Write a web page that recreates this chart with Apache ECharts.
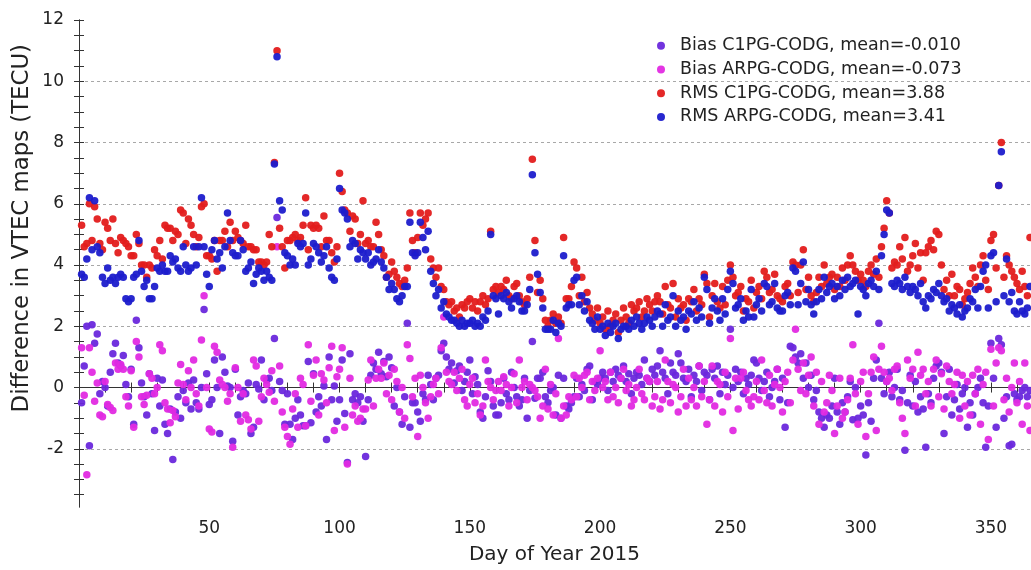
<!DOCTYPE html>
<html>
<head>
<meta charset="utf-8">
<script src="https://cdn.jsdelivr.net/npm/echarts@6/dist/echarts.min.js"></script>
<style>html,body{margin:0;padding:0;background:#fff}#c{width:1031px;height:570px}</style>
</head>
<body>
<div id="c"></div>
<script>
const seriesNames = ['Bias C1PG-CODG, mean=-0.010','Bias ARPG-CODG, mean=-0.073','RMS C1PG-CODG, mean=3.88','RMS ARPG-CODG, mean=3.41'];
const xTickValues = [10,20,30,40,50,60,70,80,90,100,110,120,130,140,150,160,170,180,190,200,210,220,230,240,250,260,270,280,290,300,310,320,330,340,350,360];
const xLabelValues = [50,100,150,200,250,300,350];
const yLabelValues = [-2,0,2,4,6,8,10,12];
const yGridValues = [-2,0,2,4,6,8,10];
const yTickValues = [-3.5,-3,-2.5,-2,-1.5,-1,-0.5,0,0.5,1,1.5,2,2.5,3,3.5,4,4.5,5,5.5,6,6.5,7,7.5,8,8.5,9,9.5,10,10.5,11,11.5,12];

const rmsC1 = [
5.3,4.6,4.7,6.0,4.8,5.9,5.5,4.7,4.5,5.4,
5.2,4.8,5.5,4.7,4.4,4.9,4.8,4.7,4.6,4.3,
4.3,5.0,4.7,4.0,4.0,3.6,4.0,3.9,4.5,4.3,
4.8,4.2,5.3,5.2,5.2,4.8,5.1,5.0,5.8,5.7,
4.7,5.5,5.3,5.0,4.6,4.9,5.9,6.0,4.3,4.3,
4.2,4.8,3.8,4.8,4.8,5.1,4.6,5.4,4.8,5.1,
4.9,4.8,4.7,5.3,4.6,4.6,4.5,4.5,4.1,4.1,
4.0,4.1,5.0,4.6,7.35,11.0,5.2,4.6,3.9,4.8,
4.8,4.9,5.0,4.8,4.9,5.3,6.2,4.5,5.3,5.2,
5.3,5.2,4.6,5.6,4.8,4.8,4.4,4.1,4.6,7.0,
6.4,5.8,5.7,5.1,5.6,5.5,4.7,5.0,6.1,4.7,
4.8,4.6,4.6,5.4,5.0,4.5,4.3,3.6,3.7,4.1,
3.8,3.6,3.4,3.3,3.5,3.9,5.7,4.8,4.4,4.9,
5.7,5.3,5.5,5.7,4.2,3.9,3.6,3.9,3.3,3.2,
2.8,2.7,2.8,2.5,2.6,2.3,2.7,2.6,2.8,2.9,
2.6,2.8,2.5,2.8,3.0,2.7,2.9,5.1,3.2,3.3,
3.1,3.3,3.2,3.5,3.0,2.9,3.3,3.4,3.0,2.8,
2.7,2.9,3.6,7.45,4.8,3.1,3.5,2.9,2.2,2.0,
2.2,2.4,2.1,2.3,2.1,4.9,2.9,2.9,3.3,4.1,
3.9,3.0,3.6,2.8,3.1,2.6,2.4,2.2,2.6,2.1,
2.3,1.9,2.5,2.0,2.2,2.4,1.8,2.2,2.6,2.3,
2.1,2.7,2.5,2.6,2.8,2.3,2.5,2.9,2.7,2.5,
2.8,3.0,2.8,2.4,3.3,2.7,2.6,3.4,2.3,2.9,
2.6,2.7,2.2,2.9,2.8,3.2,2.5,2.9,2.7,3.7,
3.4,2.3,3.0,3.4,2.8,2.6,3.3,2.7,3.5,4.0,
3.6,3.0,3.1,3.3,2.5,2.9,2.8,3.5,2.6,3.1,
3.3,2.9,3.8,3.6,3.1,3.2,3.7,3.0,2.9,2.8,
3.3,3.4,3.0,4.1,4.0,3.1,4.0,4.5,3.2,3.6,
3.0,2.8,3.1,3.6,3.3,4.0,3.4,3.6,3.7,3.2,
3.6,3.3,3.9,3.5,4.0,4.3,4.0,3.8,3.5,3.7,
3.5,3.3,3.8,4.0,3.7,4.2,3.6,4.6,5.2,6.1,
5.7,3.9,4.1,4.0,4.6,4.2,4.9,3.8,4.0,4.3,
4.7,3.9,4.4,3.5,4.4,4.6,4.8,4.5,5.1,5.0,
4.0,3.2,3.5,3.0,3.7,3.0,3.3,3.2,2.7,2.9,
3.1,3.4,3.9,3.6,3.3,4.0,4.3,3.5,3.2,4.8,
5.0,3.9,6.6,8.0,3.6,4.3,4.0,3.8,3.6,3.4,
3.2,3.8,3.3,3.0,4.9];

const rmsAR = [
3.7,3.6,4.2,6.2,4.5,6.1,4.6,4.4,3.6,3.4,
3.9,3.5,3.6,3.4,3.6,3.7,3.6,2.9,2.8,2.9,
3.6,3.7,4.8,3.8,3.3,3.5,2.9,2.9,3.3,3.9,
3.8,4.0,3.8,3.8,4.3,4.1,4.2,3.9,3.8,4.6,
4.0,3.8,3.9,4.6,4.0,4.6,6.2,4.6,3.7,3.3,
4.5,4.8,4.2,4.4,3.9,4.6,5.7,4.8,4.4,4.3,
4.3,4.8,4.5,3.8,3.9,4.1,3.4,3.7,3.9,3.8,
3.5,3.8,3.6,3.5,7.3,10.8,6.1,5.8,4.4,4.3,
4.0,4.2,4.0,4.7,4.6,4.7,5.7,4.0,4.2,4.7,
4.6,4.4,4.1,4.3,4.6,3.9,3.6,3.5,4.2,6.5,
5.8,5.7,5.5,4.6,4.8,4.7,4.2,4.5,4.4,4.2,
4.4,4.0,4.1,4.2,4.5,4.1,3.9,3.6,3.2,3.4,
3.2,2.9,2.8,3.0,3.3,3.3,5.4,4.4,4.3,4.4,
5.4,4.9,4.5,5.1,3.8,3.4,3.0,3.2,2.6,2.8,
2.4,2.3,2.2,2.2,2.1,2.0,2.2,2.0,2.1,2.1,
2.2,2.0,2.1,2.0,2.3,2.2,2.5,5.0,3.0,2.9,
2.4,3.0,2.9,3.1,2.8,2.6,2.9,3.0,2.8,2.5,
2.5,2.7,3.2,6.95,4.4,3.7,3.1,2.6,1.9,1.9,
1.9,2.2,1.8,2.1,2.0,4.3,2.6,2.7,2.7,3.5,
3.6,2.7,3.0,2.5,2.8,2.2,2.1,1.9,2.3,1.9,
2.0,1.7,2.1,1.8,2.0,2.1,1.6,1.9,2.0,2.0,
1.9,2.2,2.0,2.3,2.1,1.9,2.1,2.3,2.2,2.0,
2.3,2.5,2.4,2.0,2.7,2.2,2.3,3.0,2.0,2.5,
2.2,2.3,1.9,2.5,2.4,2.8,2.2,2.6,2.3,3.6,
3.2,2.1,2.6,2.9,2.5,2.2,2.9,2.4,3.2,3.8,
3.4,2.6,2.7,2.9,2.2,2.5,2.3,3.2,2.3,2.7,
2.9,2.5,3.4,3.3,2.7,2.8,3.4,2.6,2.5,2.5,
3.0,3.1,2.7,3.9,3.8,2.7,3.4,4.1,2.8,3.2,
2.7,2.4,2.8,3.2,2.9,3.6,3.1,3.3,3.4,2.9,
3.3,3.0,3.5,3.2,3.6,3.3,3.4,3.5,2.4,3.3,
3.2,3.0,3.4,3.5,3.3,3.8,3.2,4.3,5.0,5.8,
5.7,3.4,3.3,3.5,3.4,3.2,3.6,3.3,3.1,3.3,
3.2,3.0,3.4,2.8,2.6,3.0,2.9,3.2,3.1,3.4,
3.0,2.8,2.9,2.5,2.7,2.6,2.4,2.7,2.3,2.5,
2.6,2.9,2.8,3.2,2.6,3.3,3.8,4.0,2.6,4.3,
4.4,2.8,6.6,7.7,3.0,4.2,2.8,3.1,2.5,2.4,
2.8,2.5,2.4,2.6,3.3];

const biasC1 = [
-0.5,0.7,2.0,-1.9,2.05,1.45,1.75,-0.2,0.2,0.0,
-0.6,0.5,1.1,1.45,0.8,0.7,1.05,0.1,-0.3,0.6,
-1.2,2.2,1.3,0.15,-0.3,-0.9,0.45,-0.2,-1.4,0.3,
-0.6,0.25,-1.2,-1.5,-0.7,-2.35,-0.8,-0.3,-1.0,-0.1,
-0.5,0.15,-0.7,0.25,-0.5,-0.7,0.0,2.55,0.45,-0.55,
-0.4,0.9,0.0,-1.5,1.0,0.5,0.05,0.0,-1.75,0.6,
-0.9,-0.3,-0.1,-0.2,0.15,-1.5,-1.3,0.1,-0.05,0.9,
-0.4,0.25,0.3,-0.1,1.6,5.55,0.2,-0.1,-1.2,-0.2,
-1.2,-1.7,-1.0,-0.4,-0.9,-1.25,-1.25,0.85,-1.15,0.45,
-0.8,-0.3,-0.6,0.05,-1.7,1.0,-0.4,0.05,-1.1,-0.4,
0.9,-0.85,-2.45,1.1,-0.4,-0.2,-0.5,-0.3,-1.1,-2.25,
-0.4,0.4,0.8,0.6,1.15,0.45,0.85,0.35,1.0,0.65,
-0.6,0.0,-0.8,-1.2,-0.3,2.1,-1.3,-0.5,-0.5,-0.8,
-1.1,-0.2,-0.4,0.4,0.1,-0.4,0.3,0.4,1.2,1.45,
1.0,0.6,0.8,0.15,0.55,0.7,-0.1,0.2,0.5,0.9,
-0.2,0.35,0.1,-0.8,-1.0,-0.3,0.55,0.2,-0.6,-0.9,
-0.9,-0.5,0.3,-0.2,-0.4,0.5,0.0,-0.3,-0.6,-0.4,
0.3,-1.0,-0.1,1.5,-0.35,0.3,0.3,0.5,-0.3,-0.5,
-0.1,0.0,-0.9,0.4,-1.0,0.3,-0.6,-0.7,-0.5,-0.3,
0.3,-0.3,0.1,-0.1,0.6,0.7,-0.4,0.2,0.1,0.3,
0.5,0.3,-0.1,0.5,0.2,0.6,0.4,0.3,0.7,0.2,
0.45,-0.2,0.3,0.5,0.4,0.1,0.9,0.3,0.2,0.6,
0.4,0.7,1.2,0.5,0.3,-0.2,0.8,0.5,0.4,1.1,
0.8,0.3,0.2,0.6,-0.3,0.4,0.2,0.7,-0.1,0.5,
0.4,-0.4,0.6,0.3,0.7,-0.2,0.5,0.1,0.4,1.9,
0.0,0.6,0.2,0.5,-0.2,0.3,0.1,0.4,0.9,0.8,
0.3,-0.1,0.2,0.5,-0.3,0.0,0.2,0.6,-0.4,0.3,
-1.3,-0.5,1.35,1.3,1.0,0.8,1.1,0.3,0.8,0.0,
0.4,-0.4,-0.1,-0.8,-1.0,-1.3,-0.9,-1.0,-0.6,0.3,
-0.8,-1.2,-0.5,-0.8,-0.3,0.2,-1.05,0.0,-1.0,-0.6,
-0.9,-2.2,-0.5,-1.1,0.3,0.9,2.1,0.3,-0.2,0.2,
0.5,-0.3,0.0,0.6,-0.4,-0.1,-2.05,-0.5,0.4,-0.6,
0.2,-0.8,-0.3,-0.7,-1.95,-0.2,-0.5,0.3,0.7,0.8,
0.5,-1.5,-0.3,0.6,-0.9,-0.4,0.1,-0.7,-0.2,0.0,
-1.3,-0.5,-0.9,-0.2,0.0,0.3,-0.5,-1.95,-0.6,1.45,
0.3,-1.3,1.6,1.4,-1.0,-0.3,-1.9,-1.85,-0.2,-0.4,
-0.3,-0.1,0.0,-0.3,-0.1];

const biasAR = [
1.3,-0.25,-2.85,1.3,0.5,-0.45,0.15,-0.9,-0.95,0.2,
-0.55,-0.65,-0.75,0.8,0.6,0.75,0.6,-0.3,-0.6,0.55,
-1.3,1.5,1.0,-0.3,-0.55,-0.25,0.45,0.3,-0.2,0.0,
1.4,1.2,-0.5,-0.7,-1.15,-0.75,-0.95,0.15,0.75,0.1,
-0.4,0.55,0.0,0.9,-0.2,-0.6,1.55,3.0,0.0,-1.35,
-1.45,1.35,1.15,0.25,0.1,0.0,-0.45,-0.2,-1.95,0.65,
0.0,-1.1,-0.2,-0.9,-1.05,-1.35,0.9,0.7,-1.1,-0.3,
0.3,0.1,-0.15,0.55,-0.45,4.6,0.7,-0.8,-1.3,-1.6,
-1.85,-0.7,-0.2,-1.3,0.3,0.1,-1.25,1.4,-0.45,0.4,
0.9,-0.9,0.45,0.25,-0.5,0.65,1.35,-1.4,0.35,0.6,
1.3,-1.3,-2.5,0.3,-0.9,-0.6,-1.1,-1.0,-0.7,-0.7,
0.25,0.9,-0.6,0.3,0.6,0.3,0.8,-0.2,0.4,-0.4,
0.6,0.2,-0.8,0.0,-1.0,1.4,0.95,-0.3,0.3,-1.6,
0.4,0.0,-0.5,-1.0,-0.3,0.1,0.3,-0.2,1.3,2.3,
0.5,0.2,0.1,0.5,-0.1,0.3,0.6,-0.4,-0.6,0.1,
0.3,-0.5,-0.2,-0.9,-0.6,0.9,0.2,0.0,-0.4,-0.1,
0.2,-0.1,0.35,0.1,-0.6,0.0,0.45,-0.5,0.9,0.0,
0.2,-0.4,0.1,0.0,-0.1,-0.3,-1.0,-0.6,0.6,-0.7,
0.1,-0.9,-0.2,1.6,-1.0,-0.6,-0.9,-0.3,-0.4,0.4,
-0.3,0.3,0.0,0.4,0.5,-0.4,0.2,-0.1,0.3,1.2,
0.0,0.2,-0.4,0.5,-0.3,0.0,-0.5,0.3,0.6,-0.1,
0.1,-0.6,-0.4,0.0,0.6,-0.2,-0.4,0.3,0.2,-0.6,
-0.3,0.2,-0.7,-0.4,0.9,0.2,-0.5,0.1,0.0,-0.8,
-0.3,0.6,-0.6,0.3,-0.4,0.0,-0.6,0.7,-0.3,0.2,
-1.2,-0.4,0.7,-0.6,0.2,0.1,-0.8,0.5,-0.3,1.6,
-1.4,0.3,-0.7,0.3,0.5,-0.1,-0.4,-0.6,-0.3,0.2,
-0.4,0.9,-0.1,-0.5,0.4,-0.6,0.1,0.6,0.0,-0.8,
0.2,0.5,-0.5,0.9,1.9,0.6,-0.1,0.8,-0.2,0.4,
1.0,-0.6,0.5,-1.2,0.2,-0.8,-0.5,0.4,-0.1,-1.5,
-0.6,0.3,-1.0,-0.8,-0.4,0.3,1.4,-0.2,-1.2,0.2,
0.5,-1.6,-0.2,0.5,1.0,-1.4,0.6,1.35,0.5,0.2,
0.3,-0.1,0.6,0.7,-0.5,-1.0,-1.5,0.9,0.3,0.6,
-0.6,1.15,0.4,0.6,-0.2,0.2,-0.6,0.6,0.9,-0.3,
0.45,-0.7,0.7,0.2,-0.2,0.1,0.5,-1.0,0.4,-0.6,
0.2,-0.9,0.4,-0.2,0.6,-1.2,0.1,0.5,-1.7,1.25,
-0.6,0.8,1.3,1.2,-0.4,0.3,-0.8,0.0,0.8,-0.5,
0.2,-1.2,0.8,-0.6,-1.4];

const colors = ['#6a28dc','#e22ae2','#e31c1c','#1c1ccc'];
const valueSets = [biasC1, biasAR, rmsC1, rmsAR];

function toPoints(arr){ return arr.map((v,i)=>[i+1, v]); }

const chart = echarts.init(document.getElementById('c'), null, {renderer:'canvas'});
const axisCol = '#333';
const fontFam = 'DejaVu Sans';
const option = {
  animation:false,
  backgroundColor:'#fff',
  grid:{left:79, top:20, width:951, height:492},
  legend:{
    orient:'vertical', left:657, top:34, padding:0, itemGap:0,
    itemWidth:8, itemHeight:8, icon:'circle',
    textStyle:{fontFamily:fontFam, fontSize:17.5, color:'#222', lineHeight:23.7, padding:[0,0,0,10]},
    data:seriesNames
  },
  xAxis:[{
    type:'value', min:0, max:365, position:'bottom',
    name:'Day of Year 2015', nameLocation:'middle', nameGap:38,
    nameTextStyle:{fontFamily:fontFam, fontSize:20, color:'#222'},
    axisLine:{show:true, lineStyle:{color:axisCol, width:1}},
    axisTick:{show:true, inside:true, length:5, customValues:xTickValues, lineStyle:{color:axisCol}},
    axisLabel:{show:true, customValues:xLabelValues, margin:13, fontFamily:fontFam, fontSize:17, color:'#222'},
    splitLine:{show:false}
  },{
    type:'value', min:0, max:365, position:'top',
    axisLine:{show:true, lineStyle:{color:axisCol, width:1}},
    axisTick:{show:true, inside:true, length:5, customValues:xTickValues, lineStyle:{color:axisCol}},
    axisLabel:{show:false}, splitLine:{show:false}
  }],
  yAxis:[{
    type:'value', min:-3.9, max:12, position:'left',
    axisLine:{show:true, lineStyle:{color:axisCol, width:1}},
    axisTick:{show:true, inside:true, length:5, customValues:yTickValues, lineStyle:{color:axisCol}},
    axisLabel:{show:true, customValues:yLabelValues, margin:15, fontFamily:fontFam, fontSize:17, color:'#222'},
    splitLine:{show:false}
  },{
    type:'value', min:-3.9, max:12, position:'right',
    axisLine:{show:true, lineStyle:{color:axisCol, width:1}},
    axisTick:{show:true, inside:true, length:5, customValues:yTickValues, lineStyle:{color:axisCol}},
    axisLabel:{show:false}, splitLine:{show:false}
  },{
    type:'value', min:-3.9, max:12, position:'left',
    axisLine:{show:false},
    axisTick:{show:false, customValues:yGridValues},
    axisLabel:{show:false},
    splitLine:{show:true, lineStyle:{color:'#a8a8a8', width:1, type:[3,3]}}
  }],
  graphic:[{
    type:'text', left:11, top:44, rotation:Math.PI/2,
    style:{text:'Difference in VTEC maps (TECU)', fontFamily:fontFam, fontSize:22.8, fill:'#222'}
  }],
  series: valueSets.map((arr,k)=>({
    name:seriesNames[k], type:'scatter', xAxisIndex:0, yAxisIndex:0,
    symbol:'circle', symbolSize:7.5, itemStyle:{color:colors[k], opacity:0.95},
    data: toPoints(arr), z: 2+k
  }))
};
chart.setOption(option);
</script>
</body>
</html>
